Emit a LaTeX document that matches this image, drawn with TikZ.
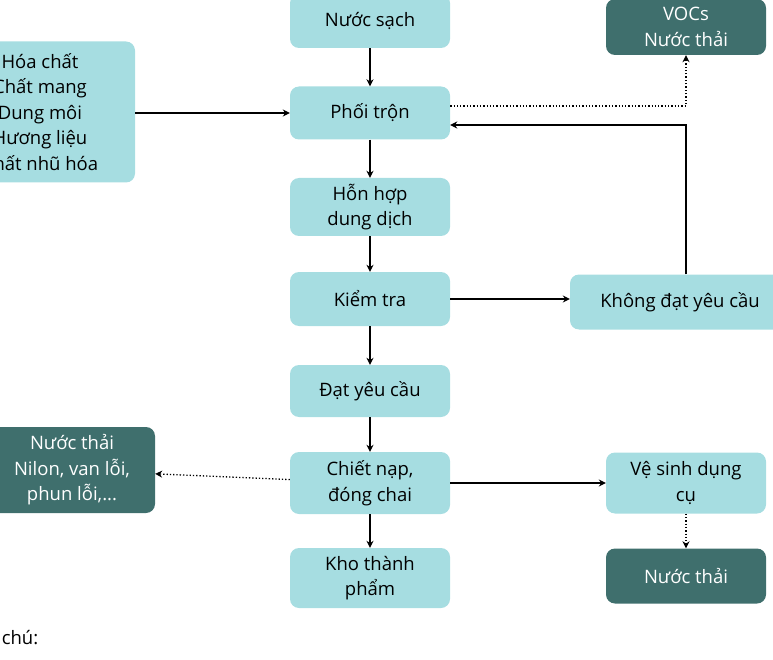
\documentclass[tikz,border=0pt]{standalone}
\usepackage{fontspec}
\setmainfont{Open Sans}
\usetikzlibrary{arrows.meta}
\definecolor{lb}{HTML}{A6DDE1}
\definecolor{db}{HTML}{3F6F6D}
\tikzset{
 lbox/.style={fill=lb,rounded corners=9pt,minimum width=160pt,align=center,font=\fontsize{18.5}{25.5}\selectfont,text=black,inner sep=2pt},
 dbox/.style={fill=db,rounded corners=9pt,minimum width=160pt,align=center,font=\fontsize{18.5}{25.5}\selectfont,text=white,inner sep=2pt},
 arr/.style={-{Stealth[length=7pt,width=7pt]},line width=1.3pt},
 darr/.style={-{Stealth[length=7pt,width=7pt]},line width=1.3pt,dotted}
}
\begin{document}
\begin{tikzpicture}[x=1pt,y=-1pt]
\useasboundingbox (0,0) rectangle (773,660);
\begin{scope}
\clip (0,0) rectangle (773,660);
\node[lbox,minimum height=54pt] (ns) at (370,21) {Nước sạch};
\node[dbox,minimum height=56pt] (voc) at (686,27) {VOCs\\Nước thải};
\node[lbox,minimum height=141pt,minimum width=190pt] (hc) at (40,112) {Hóa chất\\Chất mang\\Dung môi\\Hương liệu\\Chất nhũ hóa};
\node[lbox,minimum height=53pt] (pt) at (370,113) {Phối trộn};
\node[lbox,minimum height=58pt] (hh) at (370,207) {Hỗn hợp\\dung dịch};
\node[lbox,minimum height=54pt] (kt) at (370,299) {Kiểm tra};
\node[lbox,minimum height=55pt,minimum width=220pt] (kd) at (680,302) {Không đạt yêu cầu};
\node[lbox,minimum height=52pt] (dy) at (370,391) {Đạt yêu cầu};
\node[dbox,minimum height=86pt,minimum width=180pt] (nt1) at (65,470) {\hspace*{14pt}Nước thải\\\hspace*{14pt}Nilon, van lỗi,\\\hspace*{14pt}phun lỗi,...};
\node[lbox,minimum height=62pt] (cn) at (370,483) {Chiết nạp,\\đóng chai};
\node[lbox,minimum height=61pt] (vs) at (686,483) {Vệ sinh dụng\\cụ};
\node[lbox,minimum height=60pt] (kho) at (370,578) {Kho thành\\phẩm};
\node[dbox,minimum height=55pt] (nt2) at (686,576) {Nước thải};
\node[anchor=west,font=\fontsize{18.5}{25.5}\selectfont] (chu) at (-36,638) {Ghi chú:};
\end{scope}
\draw[arr] (ns) -- (pt);
\draw[arr] (pt) -- (hh);
\draw[arr] (hh) -- (kt);
\draw[arr] (kt) -- (dy);
\draw[arr] (dy) -- (cn);
\draw[arr] (cn) -- (kho);
\draw[arr] (hc.east |- pt) -- (pt);
\draw[arr] (kt.east |- 0,299) -- (kd.west |- 0,299);
\draw[arr] (cn) -- (vs);
\draw[darr] (pt.east |- 0,106) -| (voc);
\draw[arr] (kd.north -| voc) |- (pt.east |- 0,125);
\draw[darr] (cn) -- (nt1);
\draw[darr] (vs) -- (nt2);
\end{tikzpicture}
\end{document}
